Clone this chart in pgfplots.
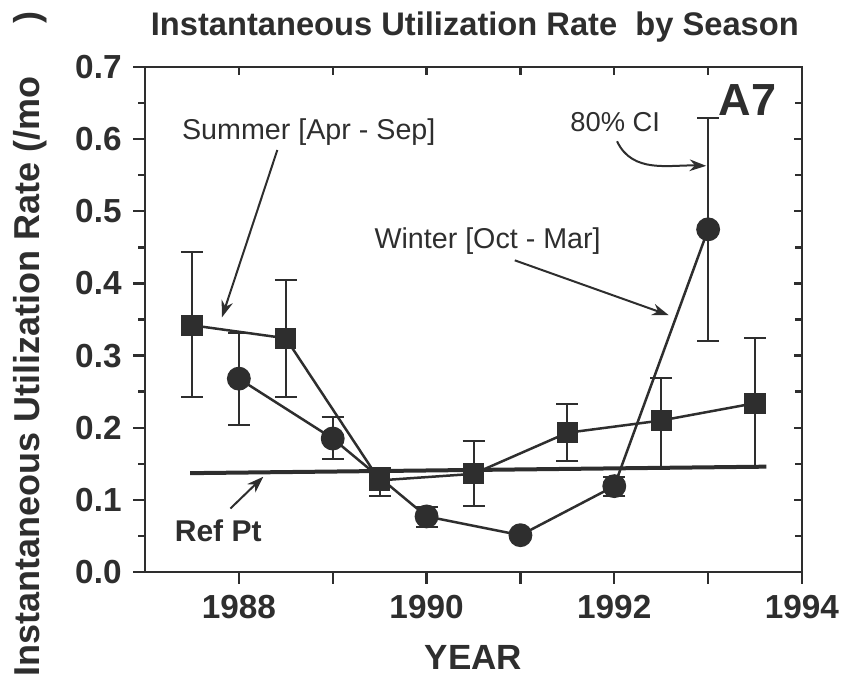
\documentclass[border=0pt]{standalone}
\usepackage{fontspec}
\setmainfont{Liberation Sans}
\usepackage{pgfplots}
\pgfplotsset{compat=1.18}
\usetikzlibrary{arrows.meta}
\definecolor{ink}{HTML}{2E2E2E}

\begin{document}
\begin{tikzpicture}[>={Stealth[length=5pt,width=3.5pt]}, color=ink]
\pgfplotsset{
  common/.style={
    width=197.1pt, height=151.5pt, scale only axis,
    xmin=1987, xmax=1994, ymin=0, ymax=0.7,
    xtick={1988,...,1994},
    ytick={0,0.1,...,0.7},
    minor y tick num=1,
    axis line style={ink, line width=0.8pt},
    every tick/.style={ink, line width=0.7pt},
  }
}

% top/right ticks point inwards
\begin{axis}[common,
  tick align=inside,
  xtick pos=right, ytick pos=right,
  xticklabels={}, yticklabels={},
  major tick length=2.4pt, minor tick length=2pt,
]
\end{axis}

\begin{axis}[common,
  tick align=outside,
  xtick pos=left, ytick pos=left,
  major tick length=3.5pt, minor tick length=2pt,
  xticklabels={1988,,1990,,1992,,1994},
  yticklabels={0.0,0.1,0.2,0.3,0.4,0.5,0.6,0.7},
  ticklabel style={font=\fontsize{10}{12}\selectfont\bfseries, text=ink},
  title={Instantaneous Utilization Rate\ \ by Season},
  title style={at={(0.502,1)}, anchor=base, yshift=3.4pt,
    font=\fontsize{9.8}{12}\selectfont\bfseries, text=ink},
  xlabel={YEAR},
  xlabel style={at={(0.5,0)}, anchor=base, yshift=-29.4pt,
    font=\fontsize{10.5}{12}\selectfont\bfseries, text=ink},
  ylabel={Instantaneous Utilization Rate (/mo\hspace{16pt})},
  ylabel style={at={(-0.16,0.452)}, anchor=base,
    font=\fontsize{10.8}{13}\selectfont\bfseries, text=ink},
]

%% reference point level
\addplot[ink, line width=1.2pt] coordinates {(1987.48,0.137) (1993.62,0.146)};

%% summer [Apr - Sep], squares
\addplot[ink, line width=0.75pt, mark=square*, mark size=2.8pt,
  mark options={solid, fill=ink},
  error bars/.cd, y dir=both, y explicit,
  error bar style={line width=0.6pt},
  error mark options={rotate=90, mark size=3.3pt, line width=0.6pt}]
coordinates {
  (1987.5,0.342) += (0,0.102) -= (0,0.099)
  (1988.5,0.324) += (0,0.081) -= (0,0.081)
  (1989.5,0.127) += (0,0.017) -= (0,0.022)
  (1990.5,0.136) += (0,0.046) -= (0,0.044)
  (1991.5,0.193) += (0,0.040) -= (0,0.039)
  (1992.5,0.210) += (0,0.059) -= (0,0.064)
  (1993.5,0.234) += (0,0.091) -= (0,0.088)
};

%% winter [Oct - Mar], circles
\addplot[ink, line width=0.75pt, mark=*, mark size=3.2pt,
  mark options={solid, fill=ink},
  error bars/.cd, y dir=both, y explicit,
  error bar style={line width=0.6pt},
  error mark options={rotate=90, mark size=3.3pt, line width=0.6pt}]
coordinates {
  (1988,0.268) += (0,0.063) -= (0,0.064)
  (1989,0.185) += (0,0.030) -= (0,0.029)
  (1990,0.077) += (0,0.013) -= (0,0.015)
  (1991,0.051) += (0,0) -= (0,0)
  (1992,0.119) += (0,0.013) -= (0,0.014)
  (1993,0.475) += (0,0.155) -= (0,0.155)
};

%% annotations
\node[anchor=base west, font=\fontsize{8.6}{10}\selectfont, text=ink]
  at (axis cs:1987.27,0.599) {Summer [Apr - Sep]};
\draw[->, line width=0.6pt] (axis cs:1988.41,0.585) -- (axis cs:1987.82,0.353);

\node[anchor=base, font=\fontsize{8.2}{10}\selectfont, text=ink]
  at (axis cs:1992.01,0.61) {80\% CI};
\draw[->, line width=0.6pt] (axis cs:1992.03,0.597)
  to[out=-65, in=178] (axis cs:1992.98,0.563);

\node[anchor=base, font=\fontsize{8.6}{10}\selectfont, text=ink]
  at (axis cs:1990.65,0.449) {Winter [Oct - Mar]};
\draw[->, line width=0.6pt] (axis cs:1990.94,0.432) -- (axis cs:1992.58,0.356);

\node[anchor=base, font=\fontsize{9}{10}\selectfont\bfseries, text=ink]
  at (axis cs:1987.78,0.042) {Ref Pt};
\draw[->, line width=0.6pt] (axis cs:1987.91,0.088) -- (axis cs:1988.26,0.132);

\node[anchor=base east, font=\fontsize{13.5}{15}\selectfont\bfseries, text=ink]
  at (axis cs:1993.85,0.633) {A7};
\end{axis}

\pgfresetboundingbox
\path ([xshift=-43.5pt,yshift=-33pt]current axis.south west)
  rectangle ([xshift=13.2pt,yshift=20.1pt]current axis.north east);
\end{tikzpicture}
\end{document}
